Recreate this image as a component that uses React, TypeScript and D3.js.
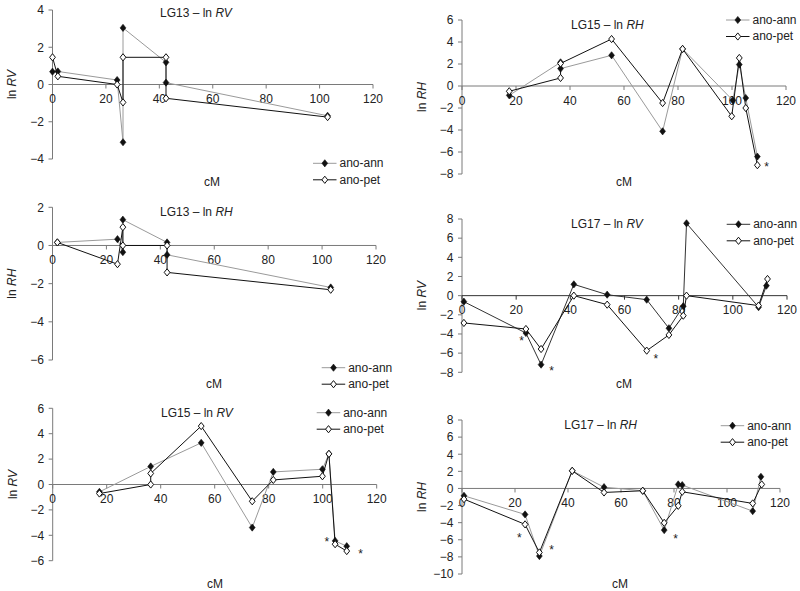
import React from "react";
import * as d3 from "d3";

type Pt = [number, number];

// ---------- data (cM, value) ----------
const lg13RvAnn: Pt[] = [[0, 0.69], [2, 0.7], [24.2, 0.24], [26.4, -3.1], [26.4, 3.04], [42.5, 1.19], [42.5, 0.1], [103, -1.68]];
const lg13RvPet: Pt[] = [[0, 1.46], [2, 0.44], [24.2, 0], [26.4, -0.96], [26.4, 1.46], [42.5, 1.46], [42.5, -0.74], [103, -1.75]];
const lg13RvStars: Pt[] = [];

const lg13RhAnn: Pt[] = [[1.8, 0.16], [24.1, 0.33], [26.1, -0.35], [26.1, 1.35], [42.5, 0.16], [42.5, -0.49], [103.2, -2.2]];
const lg13RhPet: Pt[] = [[1.8, 0.16], [24.1, -0.98], [26.1, 0.96], [26.1, 0], [42.5, 0], [42.5, -1.41], [103.2, -2.32]];
const lg13RhStars: Pt[] = [];

const lg15RvAnn: Pt[] = [[17.3, -0.58], [36.3, 1.42], [55, 3.28], [73.9, -3.39], [81.7, 0.99], [99.9, 1.2], [102.3, 2.41], [104.6, -4.44], [108.9, -4.86]];
const lg15RvPet: Pt[] = [[17.3, -0.71], [36.3, 0], [36.3, 0.87], [55, 4.6], [73.9, -1.32], [81.7, 0.36], [99.9, 0.65], [102.3, 2.41], [104.6, -4.7], [108.9, -5.24]];
const lg15RvStars: Pt[] = [[101.5, -4.3], [114, -5.2]];

const lg15RhAnn: Pt[] = [[17.5, -0.85], [36.5, 2.15], [36.5, 1.58], [55.4, 2.79], [74.3, -4.12], [81.7, 3.37], [100.3, -1.3], [102.7, 1.95], [105.1, -1.09], [109.4, -6.42]];
const lg15RhPet: Pt[] = [[17.5, -0.48], [36.5, 0.73], [36.5, 2.05], [55.4, 4.27], [74.3, -1.55], [81.7, 3.37], [99.9, -2.75], [102.7, 2.55], [105.1, -2.0], [109.4, -7.2]];
const lg15RhStars: Pt[] = [[112.8, -7.06]];

const lg17RvAnn: Pt[] = [[0.7, -0.63], [23.6, -3.9], [29.2, -7.2], [41.3, 1.18], [53.6, 0.1], [68.2, -0.42], [76.4, -3.4], [81.7, -1.1], [82.9, 7.55], [109.5, -1.2], [112.4, 1.04]];
const lg17RvPet: Pt[] = [[0.7, -2.85], [23.6, -3.48], [29.2, -5.57], [41.3, 0], [53.6, -0.94], [68.2, -5.74], [76.4, -4.1], [81.7, -2.09], [82.9, 0], [109.5, -1.04], [112.8, 1.74]];
const lg17RvStars: Pt[] = [[22, -4.46], [33.1, -7.6], [71.6, -6.3]];

const lg17RhAnn: Pt[] = [[0.75, -0.86], [23.8, -3.04], [29.2, -7.9], [41.6, 2.06], [53.6, 0.15], [68.2, -0.27], [76.3, -4.87], [81.6, 0.47], [83.1, 0.39], [109.7, -2.65], [112.8, 1.36]];
const lg17RhPet: Pt[] = [[0.75, -1.25], [23.8, -4.2], [29.2, -7.48], [41.6, 2.06], [53.6, -0.47], [68.2, -0.27], [76.3, -4.02], [81.6, -2.03], [83.1, -0.39], [109.7, -1.75], [113.1, 0.47]];
const lg17RhStars: Pt[] = [[21.6, -5.4], [33.8, -6.9], [80.6, -5.6]];

const xTicks = [0, 20, 40, 60, 80, 100, 120];
const seriesNames = ["ano-ann", "ano-pet"];

// ---------- layout ----------
const panels = [
  { lg: "LG13", trait: "RV", ann: lg13RvAnn, pet: lg13RvPet, stars: lg13RvStars, yDom: [-4, 4], x0: 52.5, x1: 373, yTop: 10, yBot: 159, titleX: 160, titleY: 13, legX: 313, legY: 163.3, cmX: 212, cmY: 182, annColor: "#9a9a9a", axis: "#7a7a7a" },
  { lg: "LG13", trait: "RH", ann: lg13RhAnn, pet: lg13RhPet, stars: lg13RhStars, yDom: [-6, 2], x0: 52.5, x1: 376, yTop: 207.3, yBot: 360, titleX: 160, titleY: 212, legX: 321.7, legY: 367.7, cmX: 214, cmY: 383.3, annColor: "#9a9a9a", axis: "#7a7a7a" },
  { lg: "LG15", trait: "RV", ann: lg15RvAnn, pet: lg15RvPet, stars: lg15RvStars, yDom: [-6, 6], x0: 52.7, x1: 376.7, yTop: 408.3, yBot: 560.7, titleX: 161, titleY: 413, legX: 316.7, legY: 412.7, cmX: 215, cmY: 584, annColor: "#9a9a9a", axis: "#7a7a7a" },
  { lg: "LG15", trait: "RH", ann: lg15RhAnn, pet: lg15RhPet, stars: lg15RhStars, yDom: [-8, 6], x0: 462, x1: 786, yTop: 20, yBot: 174, titleX: 571, titleY: 25, legX: 726, legY: 20, cmX: 624, cmY: 182, annColor: "#9a9a9a", axis: "#7a7a7a" },
  { lg: "LG17", trait: "RV", ann: lg17RvAnn, pet: lg17RvPet, stars: lg17RvStars, yDom: [-8, 8], x0: 462, x1: 787, yTop: 219, yBot: 372.3, titleX: 571, titleY: 223.3, legX: 726.7, legY: 224.3, cmX: 624, cmY: 384, annColor: "#333333", axis: "#333333" },
  { lg: "LG17", trait: "RH", ann: lg17RhAnn, pet: lg17RhPet, stars: lg17RhStars, yDom: [-10, 8], x0: 462, x1: 780, yTop: 420, yBot: 574, titleX: 564.3, titleY: 425, legX: 720.7, legY: 425.7, cmX: 620, cmY: 584, annColor: "#9a9a9a", axis: "#7a7a7a" },
];

const FONT = "'Liberation Sans', Arial, Helvetica, sans-serif";
const TXT = "#222";
const diamond = "M0,-3.6L2.9,0L0,3.6L-2.9,0Z";
const fmt = d3.format("d");

function Panel({ p }: { p: (typeof panels)[number] }) {
  const x = d3.scaleLinear().domain([0, 120]).range([p.x0, p.x1]);
  const y = d3.scaleLinear().domain(p.yDom).range([p.yBot, p.yTop]);
  const line = d3.line<Pt>().x((d) => x(d[0])).y((d) => y(d[1]));
  const yTicks = d3.range(p.yDom[0], p.yDom[1] + 0.001, 2);
  const y0 = y(0);
  const ax = x(0);
  const ylabX = p.x0 - 40.5;
  const ylabY = (p.yTop + p.yBot) / 2;
  return (
    <g>
      {/* y axis */}
      <line x1={ax} x2={ax} y1={p.yTop} y2={p.yBot} stroke="#7a7a7a" strokeWidth={1} />
      {yTicks.map((t) => (
        <g key={"y" + t}>
          <line x1={ax - 4} x2={ax} y1={y(t)} y2={y(t)} stroke="#7a7a7a" />
          <text x={ax - 8.5} y={y(t) + 4.3} textAnchor="end" fontSize={12} fontFamily={FONT} fill={TXT}>
            {fmt(t)}
          </text>
        </g>
      ))}
      {/* x axis at 0 */}
      <line x1={x(0)} x2={x(120)} y1={y0} y2={y0} stroke={p.axis} strokeWidth={1} />
      {xTicks.map((t) => (
        <g key={"x" + t}>
          <line x1={x(t)} x2={x(t)} y1={y0} y2={y0 + 4} stroke={p.axis} />
          <text x={x(t)} y={y0 + 18.5} textAnchor="middle" fontSize={12} fontFamily={FONT} fill={TXT}>
            {fmt(t)}
          </text>
        </g>
      ))}
      {/* labels */}
      <text
        transform={`translate(${ylabX},${ylabY}) rotate(-90)`}
        textAnchor="middle"
        fontSize={12}
        fontFamily={FONT}
        fill={TXT}
        dy={4.3}
      >
        ln <tspan fontStyle="italic">{p.trait}</tspan>
      </text>
      <text x={p.titleX} y={p.titleY + 4.3} fontSize={12} fontFamily={FONT} fill={TXT}>
        {p.lg} – ln <tspan fontStyle="italic">{p.trait}</tspan>
      </text>
      <text x={p.cmX} y={p.cmY + 4.3} textAnchor="middle" fontSize={12} fontFamily={FONT} fill={TXT}>
        cM
      </text>
      {/* lines */}
      <path d={line(p.ann) || ""} fill="none" stroke={p.annColor} strokeWidth={1} />
      <path d={line(p.pet) || ""} fill="none" stroke="#111" strokeWidth={1} />
      {p.ann.map((d, i) => (
        <path key={"a" + i} d={diamond} transform={`translate(${x(d[0])},${y(d[1])})`} fill="#111" stroke="#111" strokeWidth={0.6} />
      ))}
      {p.pet.map((d, i) => (
        <path key={"p" + i} d={diamond} transform={`translate(${x(d[0])},${y(d[1])})`} fill="#fff" stroke="#111" strokeWidth={1} />
      ))}
      {p.stars.map((d, i) => (
        <text key={"s" + i} x={x(d[0])} y={y(d[1]) + 7} textAnchor="middle" fontSize={12} fontFamily={FONT} fill={TXT}>
          *
        </text>
      ))}
      {/* legend */}
      {seriesNames.map((name, i) => {
        const ly = p.legY + i * 16.5;
        const isAnn = i === 0;
        return (
          <g key={name}>
            <line x1={p.legX} x2={p.legX + 23.5} y1={ly} y2={ly} stroke={isAnn ? p.annColor : "#111"} />
            <path
              d={diamond}
              transform={`translate(${p.legX + 11.8},${ly})`}
              fill={isAnn ? "#111" : "#fff"}
              stroke="#111"
              strokeWidth={isAnn ? 0.6 : 1}
            />
            <text x={p.legX + 26.5} y={ly + 3.8} fontSize={12} fontFamily={FONT} fill={TXT}>
              {name}
            </text>
          </g>
        );
      })}
    </g>
  );
}

export default function App() {
  return (
    <svg width={800} height={591} style={{ position: "absolute", left: 0, top: 0, background: "#fff" }}>
      <rect x={0} y={0} width={800} height={591} fill="#fff" />
      {panels.map((p, i) => (
        <Panel key={i} p={p} />
      ))}
    </svg>
  );
}
